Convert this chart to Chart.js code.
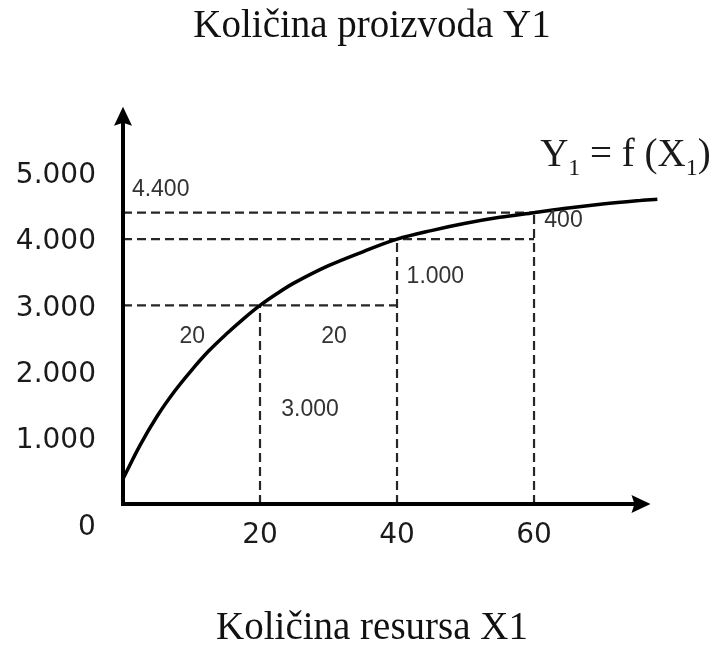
<!DOCTYPE html>
<html>
<head>
<meta charset="utf-8">
<script src="https://cdn.jsdelivr.net/npm/chart.js@4.4.1/dist/chart.umd.min.js"></script>
<style>
  html, body { margin: 0; padding: 0; background: #fff; }
  #wrap { width: 719px; height: 648px; }
</style>
</head>
<body>
<div id="wrap"><canvas id="mainChart" width="719" height="648"></canvas></div>
<script>
// Krivulja Y1 = f(X1)
const curveX = [0, 2.5, 5, 7.5, 10, 12.5, 15, 17.5, 20, 22.5, 25, 30, 35, 40, 45, 50, 55, 60, 65, 70, 75, 78];
const curveY = [380, 890, 1330, 1700, 2020, 2310, 2560, 2790, 3000, 3180, 3340, 3600, 3810, 4000, 4130, 4240, 4330, 4400, 4470, 4530, 4580, 4605];

// Pomocne isprekidane linije
const guideX = [20, 40, 60];
const guideY = [3000, 4000, 4400];
const guideEnd = [40, 60, 60];

// Oznake osi
const yTicks = [1000, 2000, 3000, 4000, 5000];
const xTicks = [20, 40, 60];

// Natpisi uz linije (tekst i vrijednosti)
const noteText = ['4.400', '400', '1.000', '20', '20', '3.000'];
const noteX = [5.5, 64.3, 45.6, 10.1, 30.8, 27.3];
const noteY = [4745, 4277, 3431, 2524, 2524, 1421];

const titleTop = 'Količina proizvoda Y1';
const titleBottom = 'Količina resursa X1';

function fmt(v) {
  return String(v).replace(/\B(?=(\d{3})+(?!\d))/g, '.');
}

const datasets = [{
  data: curveX.map((x, i) => ({ x: x, y: curveY[i] })),
  borderColor: '#000',
  borderWidth: 3.5,
  pointRadius: 0,
  tension: 0.35,
  clip: false
}];

guideX.forEach((gx, i) => {
  datasets.push({
    data: [{ x: gx, y: 0 }, { x: gx, y: guideY[i] }],
    borderColor: '#262626', borderWidth: 2.2, borderDash: [9, 5], pointRadius: 0
  });
  datasets.push({
    data: [{ x: 0, y: guideY[i] }, { x: guideEnd[i], y: guideY[i] }],
    borderColor: '#262626', borderWidth: 2.2, borderDash: [9, 5], pointRadius: 0
  });
});

const sketchPlugin = {
  id: 'sketch',
  afterDraw(chart) {
    const { ctx, scales: { x, y } } = chart;
    const x0 = x.getPixelForValue(0), y0 = y.getPixelForValue(0);
    const xEnd = x.getPixelForValue(77), yEnd = y.getPixelForValue(6000);
    ctx.save();

    // osi sa strelicama
    ctx.strokeStyle = '#000';
    ctx.fillStyle = '#000';
    ctx.lineWidth = 4;
    ctx.beginPath();
    ctx.moveTo(x0, y0 + 2); ctx.lineTo(x0, yEnd + 14);
    ctx.moveTo(x0 - 2, y0); ctx.lineTo(xEnd - 14, y0);
    ctx.stroke();
    ctx.beginPath();
    ctx.moveTo(x0, yEnd); ctx.lineTo(x0 - 9, yEnd + 19); ctx.lineTo(x0, yEnd + 16); ctx.lineTo(x0 + 9, yEnd + 19);
    ctx.closePath(); ctx.fill();
    ctx.beginPath();
    ctx.moveTo(xEnd, y0); ctx.lineTo(xEnd - 19, y0 - 9); ctx.lineTo(xEnd - 16, y0); ctx.lineTo(xEnd - 19, y0 + 9);
    ctx.closePath(); ctx.fill();

    // oznake na osima
    ctx.fillStyle = '#1a1a1a';
    ctx.font = '28px "DejaVu Sans"';
    ctx.textBaseline = 'middle';
    ctx.textAlign = 'right';
    yTicks.forEach(v => ctx.fillText(fmt(v), x0 - 27, y.getPixelForValue(v) + 3));
    ctx.textAlign = 'center';
    ctx.fillText('0', x0 - 36, y0 + 24);
    xTicks.forEach(v => ctx.fillText(String(v), x.getPixelForValue(v), y0 + 32));

    // natpisi
    ctx.fillStyle = '#333';
    ctx.font = '23px "Liberation Sans"';
    noteText.forEach((t, i) => ctx.fillText(t, x.getPixelForValue(noteX[i]), y.getPixelForValue(noteY[i])));

    // Y1 = f (X1)
    ctx.fillStyle = '#1a1a1a';
    ctx.textAlign = 'left';
    ctx.textBaseline = 'alphabetic';
    let px = x.getPixelForValue(60.9);
    const py = y.getPixelForValue(5110);
    const parts = [['Y', 0], ['1', 1], [' = f (X', 0], ['1', 1], [')', 0]];
    parts.forEach(([t, sub]) => {
      ctx.font = sub ? '24px "Liberation Serif"' : '39px "Liberation Serif"';
      ctx.fillText(t, px, py + (sub ? 9 : 0));
      px += ctx.measureText(t).width;
    });
    ctx.restore();
  }
};

new Chart(document.getElementById('mainChart').getContext('2d'), {
  type: 'line',
  data: { datasets: datasets },
  options: {
    responsive: false,
    animation: false,
    events: [],
    layout: { padding: { left: 25, right: 0, top: 0, bottom: 0 } },
    plugins: {
      legend: { display: false },
      tooltip: { enabled: false },
      title: {
        display: true,
        text: titleTop,
        color: '#111',
        font: { family: 'Liberation Serif', size: 39, weight: 'normal', lineHeight: 1.2 },
        padding: { top: 3, bottom: 57 }
      },
      subtitle: {
        display: true,
        position: 'bottom',
        text: titleBottom,
        color: '#111',
        font: { family: 'Liberation Serif', size: 39, weight: 'normal', lineHeight: 1 },
        padding: { top: 0, bottom: 0 }
      }
    },
    scales: {
      x: {
        type: 'linear', min: 0, max: 87,
        grid: { display: false }, border: { display: false },
        ticks: { display: false },
        afterFit(scale) { scale.height = 105; }
      },
      y: {
        type: 'linear', min: 0, max: 6000,
        grid: { display: false }, border: { display: false },
        ticks: { display: false },
        afterFit(scale) { scale.width = 98; }
      }
    }
  },
  plugins: [sketchPlugin]
});
</script>
</body>
</html>
